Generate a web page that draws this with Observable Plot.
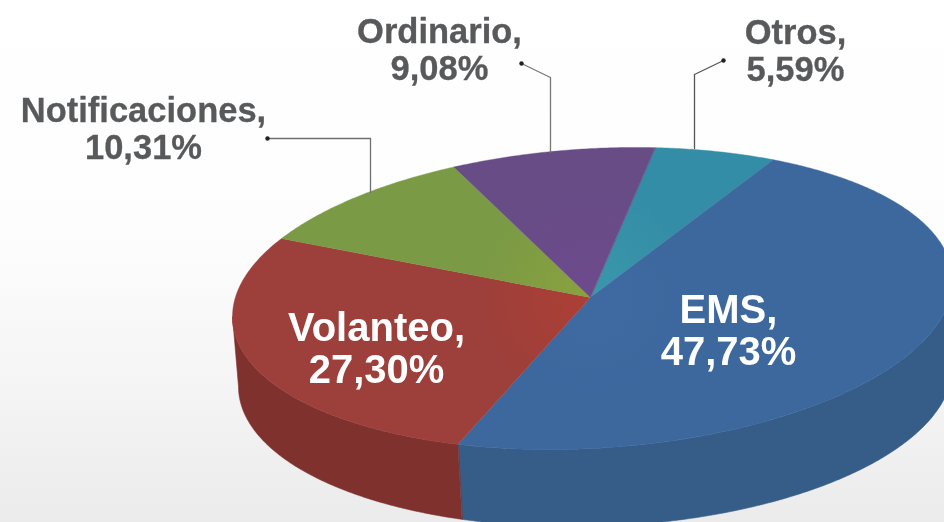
<!DOCTYPE html>
<html>
<head>
<meta charset="utf-8">
<script src="https://cdn.jsdelivr.net/npm/d3@7"></script>
<script src="https://cdn.jsdelivr.net/npm/@observablehq/plot@0.6"></script>
<style>
html,body{margin:0;padding:0;overflow:hidden;width:944px;height:522px;
background:linear-gradient(180deg,#ffffff 0%,#fdfdfd 45%,#f5f5f5 73%,#ebebeb 100%);}
svg{display:block;filter:blur(0.45px);}
</style>
</head>
<body>
<div id="chart"></div>
<script>
// Data
const categories = ["Otros", "EMS", "Volanteo", "Notificaciones", "Ordinario"];
const shares = [5.59, 47.73, 27.30, 10.31, 9.08];
const shareLabels = ["5,59%", "47,73%", "27,30%", "10,31%", "9,08%"];

// Styles
const topColors = ["#348da6", "#3d689e", "#9d3f3a", "#7b9a45", "#674c86"];
const centerColors = ["#3a98ab", "#3e6aa2", "#ad3f36", "#8aa23e", "#6e4a8c"];
const wallColors = ["#2c7a90", "#355d88", "#7f312e", "#667f3a", "#553f6f"];
const startAngle = 10;

// Layout (pixel-equal scales)
const topEllipse = {cx: 592, cy: 298, rx: 360, tilt: 18, h: 150};
const baseEllipse = {cx: 595, cy: 376, rx: 357, tilt: 10, h: 150};
const apex = {x: 590, y: 297};
const frontSide = [90, 270]; // the part of the rim whose wall faces the viewer

const rim = (e, deg) => {
  const t = deg * Math.PI / 180, u = Math.sin(t), v = Math.cos(t);
  return {x: e.cx + e.rx * u, y: e.cy - e.tilt * u - e.h * v};
};
const arc = (e, a, b) => [...d3.range(a, b, 0.5), b].map(d => rim(e, d));

let cursor = startAngle;
const slices = categories.map((name, i) => {
  const a = cursor, b = cursor + shares[i] * 3.6;
  cursor = b;
  return {name, a, b, top: topColors[i], center: centerColors[i], wall: wallColors[i]};
});

const wallMarks = slices
  .map(s => ({...s, a: Math.max(s.a, frontSide[0]), b: Math.min(s.b, frontSide[1])}))
  .filter(s => s.b > s.a)
  .map(s => Plot.line(
    [...arc(topEllipse, s.a, s.b), ...arc(baseEllipse, s.a, s.b).reverse()],
    {x: "x", y: "y", curve: "linear-closed", fill: s.wall, stroke: s.wall, strokeWidth: 0.6}
  ));
const topMarks = slices.map((s, i) => Plot.line(
  [apex, ...arc(topEllipse, s.a, s.b)],
  {x: "x", y: "y", curve: "linear-closed", fill: `url(#top${i})`, stroke: s.top, strokeWidth: 0.4}
));

const defs = () => {
  const d = d3.create("svg:defs");
  slices.forEach((s, i) => {
    const g = d.append("radialGradient").attr("id", `top${i}`)
      .attr("gradientUnits", "userSpaceOnUse")
      .attr("cx", apex.x).attr("cy", apex.y).attr("r", 110);
    g.append("stop").attr("offset", 0).attr("stop-color", s.center);
    g.append("stop").attr("offset", 1).attr("stop-color", s.top);
  });
  return d.node();
};

// Label layout
const darkLabels = [
  {i: 3, x: 143, y: 128},
  {i: 4, x: 439, y: 49},
  {i: 0, x: 795, y: 50}
].map(d => ({x: d.x, y: d.y, text: `${categories[d.i]},\n${shareLabels[d.i]}`}));
const lightLabels = [
  {i: 2, x: 376, y: 348},
  {i: 1, x: 728, y: 330}
].map(d => ({x: d.x, y: d.y, text: `${categories[d.i]},\n${shareLabels[d.i]}`}));

const leaders = [
  [{x: 267, y: 138}, {x: 370, y: 138}, {x: 370, y: 192}],
  [{x: 521, y: 63}, {x: 550, y: 77}, {x: 550, y: 152}],
  [{x: 723, y: 60}, {x: 694, y: 74}, {x: 694, y: 148}]
];
const leaderColors = ["#6f6f6f", "#777777", "#555555"];

const chart = Plot.plot({
  width: 944, height: 522,
  margin: 0,
  style: {background: "transparent", overflow: "hidden"},
  x: {axis: null, domain: [0, 944], range: [0, 944]},
  y: {axis: null, domain: [0, 522], range: [0, 522]},
  marks: [
    defs,
    ...wallMarks,
    ...topMarks,
    ...leaders.map((l, i) => Plot.line(l, {x: "x", y: "y", stroke: leaderColors[i], strokeWidth: 1.3})),
    Plot.dot(leaders.map(l => l[0]), {x: "x", y: "y", r: 2.2, fill: "#222222"}),
    Plot.text(darkLabels, {x: "x", y: "y", text: "text", fontFamily: "Liberation Sans", fontWeight: 700,
      fontSize: 34.5, lineHeight: 1.06, fill: "#58595b", stroke: "#58595b", strokeWidth: 0.3}),
    Plot.text(lightLabels, {x: "x", y: "y", text: "text", fontFamily: "Liberation Sans", fontWeight: 700,
      fontSize: 40, lineHeight: 1.05, fill: "#ffffff"})
  ]
});
document.getElementById("chart").appendChild(chart);
</script>
</body>
</html>
